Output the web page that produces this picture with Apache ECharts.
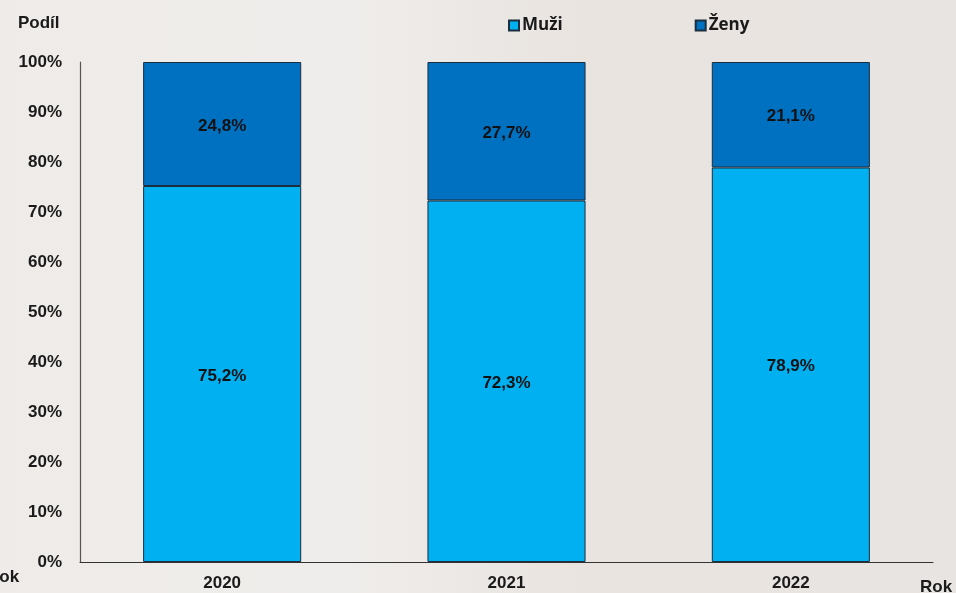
<!DOCTYPE html>
<html>
<head>
<meta charset="utf-8">
<script src="https://cdn.jsdelivr.net/npm/echarts@6/dist/echarts.min.js"></script>
<style>
  html, body { margin: 0; padding: 0; background: #ebe7e4; }
  #chart { width: 956px; height: 593px; }
</style>
</head>
<body>
<div id="chart"></div>
<script>
const years = ['2020', '2021', '2022']
const muzi = [75.2, 72.3, 78.9]
const zeny = [24.8, 27.7, 21.1]

const fmt = p => p.value.toFixed(1).replace('.', ',') + '%'
const labelStyle = {
  show: true,
  position: 'inside',
  offset: [0, 2],
  formatter: fmt,
  fontFamily: 'Liberation Sans, Arial, sans-serif',
  fontWeight: 'bold',
  fontSize: 17,
  color: '#111'
}

const chart = echarts.init(document.getElementById('chart'))
chart.setOption({
  backgroundColor: {
    type: 'linear', x: 0, y: 0, x2: 1, y2: 0,
    colorStops: [
      { offset: 0, color: '#eeebe8' },
      { offset: 0.35, color: '#efedeb' },
      { offset: 0.6, color: '#e9e4e0' },
      { offset: 1, color: '#e8e4e1' }
    ]
  },
  animation: false,
  grid: { left: 80, right: 23, top: 62, bottom: 31 },
  legend: {
    left: 503,
    top: 12,
    itemGap: 132,
    itemWidth: 10,
    itemHeight: 10,
    icon: 'rect',
    textStyle: {
      fontFamily: 'Open Sans, sans-serif',
      fontWeight: 'bold',
      fontSize: 17,
      color: '#1a1a1a',
      padding: [0, 0, 0, -2]
    },
    data: ['Muži', 'Ženy']
  },
  xAxis: {
    type: 'category',
    data: years,
    axisLine: { lineStyle: { color: '#333', width: 1.2 } },
    axisTick: { show: false },
    axisLabel: {
      fontFamily: 'Liberation Sans, Arial, sans-serif',
      fontWeight: 'bold',
      fontSize: 17,
      color: '#1a1a1a',
      margin: 13
    }
  },
  yAxis: {
    type: 'value',
    min: 0,
    max: 100,
    interval: 10,
    splitLine: { show: false },
    axisLine: { show: true, lineStyle: { color: '#555', width: 1.2 } },
    axisTick: { show: false },
    axisLabel: {
      formatter: '{value}%',
      fontFamily: 'Liberation Sans, Arial, sans-serif',
      fontWeight: 'bold',
      fontSize: 17,
      color: '#1a1a1a',
      margin: 18
    }
  },
  graphic: [
    { type: 'text', left: 18, top: 15, style: { text: 'Podíl', font: 'bold 17px Liberation Sans, Arial, sans-serif', fill: '#1a1a1a' } },
    { type: 'text', left: 920, top: 579, style: { text: 'Rok', font: 'bold 17px Liberation Sans, Arial, sans-serif', fill: '#1a1a1a' } },
    { type: 'text', left: -13, top: 569, style: { text: 'Rok', font: 'bold 17px Liberation Sans, Arial, sans-serif', fill: '#1a1a1a' } }
  ],
  series: [
    {
      name: 'Muži',
      type: 'bar',
      stack: 'a',
      barWidth: '55.6%',
      data: muzi,
      itemStyle: { color: '#00b0f0', borderColor: '#1c2e3e', borderWidth: 1 },
      label: labelStyle
    },
    {
      name: 'Ženy',
      type: 'bar',
      stack: 'a',
      data: zeny,
      itemStyle: { color: '#0070c0', borderColor: '#1c2e3e', borderWidth: 1 },
      label: labelStyle
    }
  ]
})
</script>
</body>
</html>
